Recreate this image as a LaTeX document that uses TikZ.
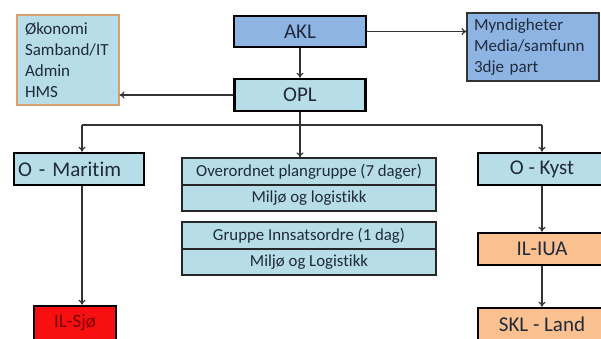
\documentclass[tikz,border=0pt]{standalone}
\usepackage{fontspec}
\setmainfont{Carlito}[Ligatures={NoCommon}]
\usetikzlibrary{arrows.meta}
\definecolor{lblue}{HTML}{B7DDE8}
\definecolor{mblue}{HTML}{8EB4E3}
\definecolor{lorange}{HTML}{FAC090}
\definecolor{bred}{HTML}{F81010}
\definecolor{dred}{HTML}{7A0000}
\definecolor{tanb}{HTML}{D9A070}
\definecolor{linec}{HTML}{333333}
\definecolor{txt}{HTML}{1F2A3A}
\begin{document}
\begin{tikzpicture}[x=1pt,y=-1pt,
  bigbox/.style={draw=black, line width=2.4pt, inner sep=0pt, text=txt,
    font=\fontsize{21}{24}\selectfont},
  rowbox/.style={draw=black!85, line width=1.1pt, fill=lblue, inner sep=0pt, text=txt,
    minimum width=254pt, font=\fontsize{16.8}{19}\selectfont},
  listbox/.style={line width=1.1pt, inner xsep=7pt, inner ysep=0pt, align=left, text=txt,
    font=\fontsize{17}{21}\selectfont},
  conn/.style={draw=linec, line width=1.2pt},
  arr/.style={conn, -{To[length=5pt,width=7pt]}}
]
\clip (0,0) rectangle (601,338);
\useasboundingbox (0,0) rectangle (601,338);
\fill[white] (0,0) rectangle (601,338);

% top
\node[bigbox, fill=mblue, minimum width=132pt, minimum height=31pt] (akl) at (300,31.5) {AKL};
\node[bigbox, fill=lblue, minimum width=131pt, minimum height=32pt] (opl) at (300,95) {OPL};
\node[listbox, draw=tanb, fill=lblue, minimum width=102pt, minimum height=90pt, text width=86pt] (stab) at (68,60)
  {Økonomi\\Samband/IT\\Admin\\HMS};
\node[listbox, draw=black!80, fill=mblue, minimum width=132pt, minimum height=68pt, text width=118pt] (myn) at (533,47)
  {Myndigheter\\Media/samfunn\\3dje part};

% middle column
\node[rowbox, minimum height=27pt] (p1) at (309,171.5) {Overordnet plangruppe (7 dager)};
\node[rowbox, minimum height=26pt] (p2) at (309,198) {Miljø og logistikk};
\node[rowbox, minimum height=27pt] (g1) at (309,235.5) {Gruppe Innsatsordre (1 dag)};
\node[rowbox, minimum height=26pt] (g2) at (309,262) {Miljø og Logistikk};

% left column
\node[bigbox, fill=lblue, minimum width=130pt, minimum height=32pt, text width=122pt, align=left] (mar) at (79,169) {O - Maritim};
\node[bigbox, fill=bred, text=dred, minimum width=82pt, minimum height=34pt,
  font=\fontsize{19}{22}\selectfont] (sjo) at (75,323) {IL-Sjø};

% right column
\node[bigbox, fill=lblue, minimum width=128pt, minimum height=32pt] (kyst) at (542,169) {O - Kyst};
\node[bigbox, fill=lorange, minimum width=128pt, minimum height=32pt] (iua) at (542,249) {IL-IUA};
\node[bigbox, fill=lorange, minimum width=128pt, minimum height=32pt] (skl) at (542,324) {SKL - Land};

% connectors
\draw[arr] (akl.south) -- (opl.north);
\draw[arr] (akl.east) -- (akl.east -| myn.west);
\draw[arr] (opl.west) -- (opl.west -| stab.east);
\draw[arr] (opl.south) -- (opl.south |- p1.north);
\coordinate (bl) at (82,125);
\coordinate (br) at (542,125);
\draw[conn] (bl) -- (br);
\draw[arr] (bl) -- (bl |- mar.north);
\draw[arr] (br) -- (kyst.north);
\draw[arr] (mar.south -| bl) -- (bl |- sjo.north);
\draw[arr] (kyst.south) -- (iua.north);
\draw[arr] (iua.south) -- (skl.north);
\end{tikzpicture}
\end{document}
